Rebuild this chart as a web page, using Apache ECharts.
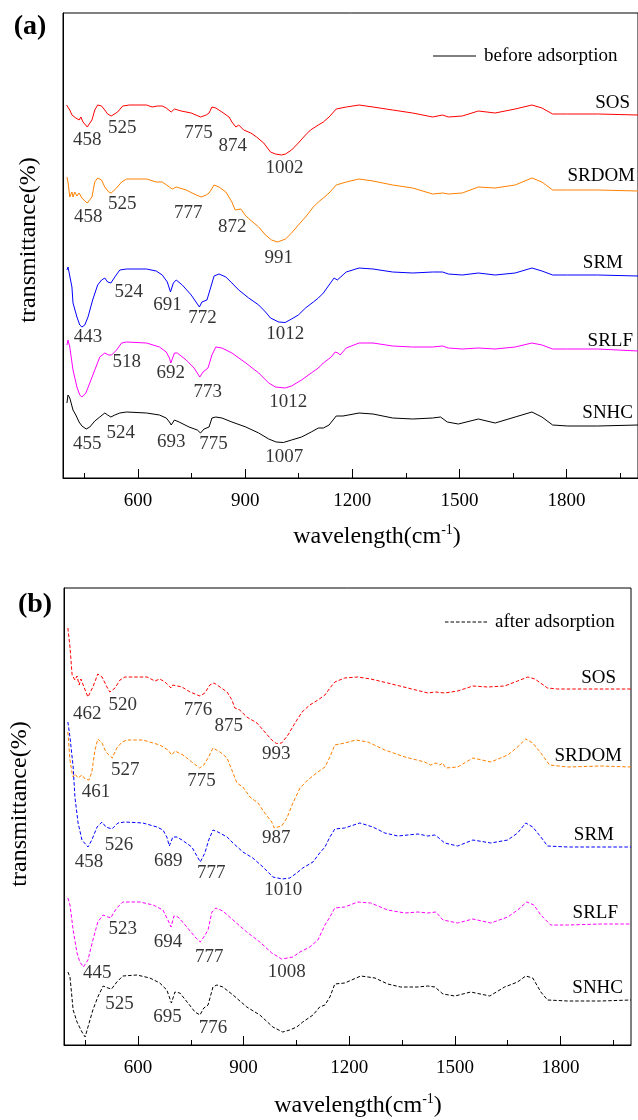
<!DOCTYPE html>
<html>
<head>
<meta charset="utf-8">
<script src="https://cdn.jsdelivr.net/npm/echarts@6/dist/echarts.min.js"></script>
<style>
  html, body { margin: 0; padding: 0; background: #fff; }
  #chart { width: 638px; height: 1120px; }
</style>
</head>
<body>
<div id="chart"></div>
<script>
// ---- axis ticks (wavenumber, cm-1) ----
const wavenumberTicks = [600, 900, 1200, 1500, 1800];
const wavenumberMinorTicks = [450, 750, 1050, 1350, 1650, 1950];

// ---- sample names, top to bottom ----
const samples = ['SOS', 'SRDOM', 'SRM', 'SRLF', 'SNHC'];

// ---- FTIR spectra before adsorption: [wavenumber, offset transmittance] ----
const sosBefore = [[400,74.6],[404,75.0],[409,73.6],[415,72.6],[418,72.2],[426,72.0],[429,72.2],[435,71.6],[440,72.2],[446,71.2],[451,70.8],[458,70.2],[471,71.6],[479,73.6],[487,74.6],[498,74.4],[507,73.6],[515,72.8],[525,72.4],[543,73.2],[557,74.4],[576,74.6],[624,74.6],[640,74.2],[654,74.4],[668,74.4],[679,74.0],[693,73.2],[702,73.8],[721,73.4],[749,73.0],[775,72.2],[791,72.6],[799,73.0],[807,74.2],[818,74.0],[835,73.2],[855,72.2],[863,71.2],[874,70.2],[882,70.6],[896,69.6],[916,69.0],[932,68.2],[952,67.0],[971,65.2],[985,64.8],[1002,64.6],[1013,64.8],[1030,65.6],[1049,67.0],[1069,68.6],[1083,69.6],[1105,70.6],[1119,71.2],[1135,72.2],[1155,73.8],[1183,74.2],[1219,74.6],[1258,74.2],[1313,73.6],[1369,73.0],[1425,72.2],[1453,72.6],[1469,72.2],[1508,72.4],[1553,73.4],[1600,73.0],[1656,73.8],[1703,74.6],[1731,74.0],[1761,72.8],[1803,72.8],[1887,72.8],[2000,72.6]];
const srdomBefore = [[401,60.2],[404,59.2],[409,56.2],[415,57.2],[418,56.2],[423,57.2],[429,56.4],[435,57.0],[443,56.0],[451,55.4],[458,55.0],[471,56.2],[479,59.2],[487,60.0],[498,59.6],[507,58.2],[518,57.2],[525,57.0],[540,58.0],[554,59.2],[568,59.8],[624,59.8],[651,59.2],[668,59.2],[688,58.2],[696,57.8],[707,58.2],[735,57.6],[763,56.6],[777,56.2],[791,56.6],[799,57.0],[813,58.6],[827,58.2],[846,57.2],[863,55.2],[872,53.6],[888,53.8],[902,52.4],[918,51.4],[938,50.2],[957,48.6],[974,47.6],[991,47.2],[1013,47.8],[1030,49.0],[1049,50.6],[1069,52.2],[1091,54.2],[1105,55.2],[1119,56.0],[1135,57.0],[1155,58.6],[1183,59.2],[1219,59.8],[1258,59.4],[1313,58.6],[1369,58.0],[1425,56.8],[1453,57.0],[1469,56.8],[1508,57.0],[1553,58.2],[1600,58.0],[1656,58.6],[1703,60.0],[1731,59.2],[1761,57.6],[1803,57.6],[1887,57.6],[2000,57.4]];
const srmBefore = [[401,41.6],[404,42.2],[409,42.0],[415,38.2],[418,35.0],[429,32.2],[437,30.6],[443,30.2],[451,30.6],[460,32.2],[473,35.6],[487,38.6],[498,39.6],[507,40.0],[515,39.2],[524,39.0],[535,40.2],[549,41.6],[568,41.8],[624,41.8],[651,41.4],[668,40.6],[682,39.2],[691,37.2],[699,39.0],[707,39.6],[724,38.6],[749,36.6],[772,34.2],[779,35.2],[793,35.6],[804,38.2],[813,40.4],[827,40.8],[846,40.2],[863,39.0],[882,37.6],[910,36.0],[938,34.6],[957,33.2],[971,32.0],[994,31.2],[1012,31.1],[1030,31.8],[1049,32.6],[1069,34.0],[1091,35.2],[1105,36.0],[1119,37.0],[1141,39.2],[1149,40.0],[1158,39.6],[1163,39.4],[1183,41.2],[1219,42.0],[1258,41.8],[1313,41.2],[1369,41.0],[1425,41.2],[1453,41.2],[1469,40.8],[1508,40.6],[1553,41.0],[1600,40.6],[1656,41.0],[1703,42.0],[1731,41.4],[1761,40.6],[1803,40.6],[1887,40.6],[2000,40.4]];
const srlfBefore = [[401,26.6],[404,27.6],[409,26.2],[418,21.6],[429,18.2],[437,16.6],[443,16.2],[454,17.0],[465,19.0],[479,21.6],[493,24.2],[507,25.0],[518,24.6],[526,24.6],[540,25.6],[554,27.0],[568,27.2],[624,27.0],[660,26.2],[679,25.2],[688,24.0],[692,23.0],[702,25.0],[710,25.0],[735,23.6],[757,22.0],[773,20.2],[782,21.2],[796,22.0],[807,24.6],[818,26.2],[835,26.0],[863,25.0],[902,23.0],[938,21.0],[966,19.0],[985,18.2],[1012,18.0],[1030,18.4],[1058,19.6],[1085,21.0],[1105,22.0],[1119,23.0],[1141,24.2],[1152,25.2],[1160,25.0],[1166,24.6],[1183,26.0],[1219,27.0],[1258,27.0],[1313,26.4],[1369,26.2],[1425,26.2],[1453,26.4],[1469,26.0],[1508,25.8],[1553,26.0],[1600,25.8],[1656,26.2],[1703,27.0],[1731,26.6],[1761,25.8],[1803,25.8],[1887,25.8],[2000,25.4]];
const snhcBefore = [[401,15.0],[404,16.6],[409,16.0],[418,13.6],[426,12.6],[435,11.2],[443,10.4],[455,9.8],[465,10.2],[479,11.4],[493,12.2],[507,13.0],[515,12.6],[524,12.2],[535,12.6],[549,13.0],[568,13.2],[624,13.0],[660,12.6],[679,12.0],[688,11.2],[693,10.6],[702,11.6],[715,11.2],[743,10.2],[766,9.6],[775,9.0],[785,9.8],[799,10.2],[807,12.0],[818,12.2],[835,12.0],[863,11.2],[902,10.2],[938,9.0],[966,7.8],[987,7.2],[1007,7.1],[1030,7.6],[1058,8.2],[1085,9.2],[1105,10.0],[1119,10.0],[1135,10.6],[1155,12.4],[1174,12.4],[1219,13.0],[1258,12.8],[1313,12.0],[1369,11.8],[1425,12.0],[1447,12.2],[1466,11.2],[1497,10.8],[1553,11.8],[1600,11.0],[1656,12.2],[1703,13.2],[1731,12.2],[1761,10.6],[1803,10.4],[1887,10.4],[2000,10.6]];

// ---- FTIR spectra after adsorption ----
const sosAfter = [[401,83.4],[407,79.6],[413,74.0],[416,73.6],[421,73.0],[427,73.8],[433,72.0],[438,73.2],[450,71.0],[458,69.6],[462,69.4],[472,71.6],[486,74.2],[498,73.6],[512,71.6],[520,70.6],[535,71.4],[549,73.0],[563,73.6],[626,73.6],[648,72.8],[662,73.2],[677,72.6],[694,71.4],[699,72.0],[725,71.6],[748,70.6],[776,69.8],[790,70.4],[804,72.0],[816,72.4],[833,71.6],[853,70.6],[867,69.0],[875,67.4],[889,67.0],[909,65.6],[938,64.4],[960,62.6],[980,61.0],[993,60.3],[1008,60.4],[1026,62.0],[1046,64.4],[1066,66.6],[1088,68.0],[1111,69.0],[1131,70.0],[1145,71.4],[1159,72.6],[1187,73.4],[1224,73.6],[1261,73.2],[1309,72.4],[1366,71.4],[1423,70.4],[1446,70.6],[1471,70.4],[1508,70.8],[1551,71.8],[1593,71.6],[1641,71.8],[1678,72.8],[1707,73.6],[1727,73.2],[1763,71.4],[1792,71.2],[1868,71.2],[1942,71.2],[2000,71.2]];
const srdomAfter = [[401,62.6],[407,57.0],[413,54.4],[416,53.6],[421,54.2],[430,53.4],[441,54.0],[450,53.2],[461,53.0],[469,54.6],[478,59.0],[486,61.2],[498,60.4],[509,58.6],[527,57.4],[540,59.4],[555,60.6],[569,61.0],[614,61.0],[643,60.4],[662,60.0],[685,59.0],[696,58.0],[705,58.8],[728,58.0],[753,56.6],[775,55.4],[787,56.0],[799,57.4],[813,59.4],[833,58.6],[853,57.4],[870,54.4],[881,52.4],[898,51.6],[918,49.6],[941,48.4],[960,46.4],[980,44.6],[987,43.4],[1008,43.8],[1023,45.4],[1040,48.4],[1060,51.4],[1082,53.0],[1111,54.6],[1131,55.6],[1145,57.6],[1159,60.0],[1187,60.4],[1219,61.0],[1253,60.6],[1301,59.0],[1358,57.6],[1414,56.6],[1431,56.0],[1446,56.4],[1457,56.0],[1465,56.4],[1474,55.4],[1508,55.6],[1551,57.4],[1602,56.6],[1650,58.0],[1678,59.6],[1701,61.2],[1721,60.4],[1744,58.4],[1769,56.0],[1820,55.6],[1914,55.8],[2000,55.6]];
const srmAfter = [[401,64.6],[407,61.6],[416,55.6],[421,49.6],[430,44.4],[441,41.0],[458,39.6],[469,41.0],[484,43.6],[498,44.6],[509,43.6],[526,43.2],[529,43.4],[543,44.4],[563,44.6],[614,44.4],[654,43.6],[671,43.0],[682,41.6],[689,39.8],[699,41.6],[711,41.6],[725,41.0],[753,39.6],[777,36.6],[790,38.4],[801,41.0],[813,43.0],[827,42.6],[853,41.6],[870,40.4],[898,38.6],[926,37.4],[955,35.6],[983,33.6],[1010,33.2],[1031,33.4],[1051,34.4],[1068,35.4],[1097,36.6],[1116,38.4],[1131,39.6],[1145,41.6],[1159,43.2],[1187,43.4],[1230,44.4],[1267,43.6],[1301,42.4],[1338,41.8],[1395,42.2],[1423,41.8],[1443,42.0],[1451,41.6],[1471,40.4],[1508,39.8],[1551,41.0],[1602,40.4],[1650,41.0],[1678,42.4],[1701,44.4],[1721,43.6],[1744,41.6],[1763,39.8],[1820,39.6],[1914,39.6],[2000,39.6]];
const srlfAfter = [[401,29.4],[407,28.0],[416,23.0],[427,18.4],[435,16.6],[445,15.6],[458,17.0],[472,21.0],[486,24.6],[501,26.0],[515,25.6],[523,25.4],[529,26.2],[540,27.4],[557,28.6],[606,28.6],[643,28.0],[671,27.0],[685,25.0],[694,23.6],[702,25.8],[714,25.6],[739,23.6],[762,21.6],[777,20.6],[787,21.6],[799,23.0],[810,26.6],[821,27.4],[841,26.8],[870,25.0],[909,22.6],[946,20.6],[980,18.4],[1008,17.2],[1040,17.6],[1060,18.6],[1088,19.6],[1111,21.0],[1131,24.0],[1145,25.6],[1159,27.4],[1187,27.6],[1224,28.6],[1261,28.4],[1309,27.0],[1358,26.4],[1395,26.6],[1423,26.4],[1446,26.6],[1466,25.0],[1508,24.4],[1551,25.2],[1602,24.4],[1650,25.6],[1678,27.0],[1704,28.6],[1724,28.0],[1744,26.0],[1772,24.0],[1820,24.0],[1914,24.2],[2000,24.2]];
const snhcAfter = [[401,14.6],[407,13.6],[416,7.0],[427,4.6],[441,2.6],[450,1.6],[458,3.6],[472,7.0],[486,9.6],[501,11.8],[515,11.4],[525,11.2],[540,12.6],[557,13.8],[597,14.0],[634,13.4],[662,12.4],[682,11.0],[695,8.4],[705,10.6],[719,10.4],[742,8.4],[762,6.6],[776,6.0],[787,7.4],[799,8.0],[813,11.6],[824,12.0],[841,11.6],[870,10.0],[909,7.6],[946,6.0],[983,3.6],[1011,2.6],[1031,3.0],[1051,3.6],[1068,4.6],[1097,6.0],[1116,7.6],[1131,8.0],[1145,9.6],[1159,12.2],[1187,12.4],[1233,13.8],[1273,13.4],[1309,12.2],[1346,11.6],[1395,11.6],[1423,11.8],[1443,11.6],[1448,11.8],[1466,10.2],[1500,9.8],[1545,10.6],[1599,9.8],[1641,11.6],[1678,12.6],[1701,13.8],[1721,13.4],[1744,10.6],[1763,9.0],[1820,8.8],[1914,8.8],[2000,9.0]];

// ---- labelled band positions (cm-1) ----
const peaksBefore = {
  SOS:   [458, 525, 775, 874, 1002],
  SRDOM: [458, 525, 777, 872, 991],
  SRM:   [443, 524, 691, 772, 1012],
  SRLF:  [518, 692, 773, 1012],
  SNHC:  [455, 524, 693, 775, 1007]
};
const peaksAfter = {
  SOS:   [462, 520, 776, 875, 993],
  SRDOM: [461, 527, 775, 987],
  SRM:   [458, 526, 689, 777, 1010],
  SRLF:  [445, 523, 694, 777, 1008],
  SNHC:  [525, 695, 776]
};

// ---- styling / layout ----
const sampleColors = { SOS: '#ff0000', SRDOM: '#ff8000', SRM: '#0000ff', SRLF: '#ff00ff', SNHC: '#000000' };
const FONT = '"Liberation Serif", "Times New Roman", serif';
// pixel nudges of each band label from its band minimum
const labelShiftBefore = {
  SOS:   [[0,13],[11,12],[-2,16],[-3,19],[3,13]],
  SRDOM: [[1,14],[11,11],[-13,16],[-3,17],[1,16]],
  SRM:   [[6,10],[18,9],[-3,13],[3,11],[0,12]],
  SRLF:  [[18,7],[0,10],[8,15],[3,14]],
  SNHC:  [[1,15],[10,16],[0,17],[13,11],[1,15]]
};
const labelShiftAfter = {
  SOS:   [[-2,16],[13,13],[-2,14],[-6,18],[0,11]],
  SRDOM: [[7,12],[13,12],[2,13],[2,10]],
  SRM:   [[1,15],[7,16],[-1,15],[11,11],[1,11]],
  SRLF:  [[14,6],[12,11],[-3,15],[9,15],[5,13]],
  SNHC:  [[8,15],[-4,14],[13,13]]
};

const spectraBefore = { SOS: sosBefore, SRDOM: srdomBefore, SRM: srmBefore, SRLF: srlfBefore, SNHC: snhcBefore };
const spectraAfter  = { SOS: sosAfter,  SRDOM: srdomAfter,  SRM: srmAfter,  SRLF: srlfAfter,  SNHC: snhcAfter };

// value of a spectrum at a given wavenumber (linear between recorded points)
function valueAt(spec, w) {
  for (let i = 1; i < spec.length; i++) {
    const [x0, y0] = spec[i - 1], [x1, y1] = spec[i];
    if (w >= x0 && w <= x1) return x1 === x0 ? y0 : y0 + (y1 - y0) * (w - x0) / (x1 - x0);
  }
  return spec[spec.length - 1][1];
}

function majorAxis(gridIndex) {
  return {
    type: 'value', gridIndex, min: 390, max: 2000,
    axisLine: { show: true, lineStyle: { color: '#000', width: 1 } },
    axisTick: { show: true, inside: true, length: 9, customValues: wavenumberTicks, lineStyle: { color: '#000', width: 1 } },
    axisLabel: {
      show: true, customValues: wavenumberTicks, margin: 14, color: '#000', fontFamily: FONT, fontSize: 19,
      formatter: v => String(v)
    },
    splitLine: { show: false }
  };
}
function minorAxis(gridIndex) {
  return {
    type: 'value', gridIndex, min: 390, max: 2000, position: 'bottom',
    axisLine: { show: false },
    axisTick: { show: true, inside: true, length: 5, customValues: wavenumberMinorTicks, lineStyle: { color: '#000', width: 1 } },
    axisLabel: { show: false },
    splitLine: { show: false }
  };
}
function yAxis(gridIndex, max) {
  return {
    type: 'value', gridIndex, min: 0, max,
    axisLine: { show: true, lineStyle: { color: '#000', width: 1 } },
    axisTick: { show: false }, axisLabel: { show: false }, splitLine: { show: false }
  };
}

const series = [];
function addPanel(spectra, peaks, shifts, xIdx, yIdx, dashed) {
  samples.forEach(name => {
    series.push({
      type: 'line', name, xAxisIndex: xIdx, yAxisIndex: yIdx,
      data: spectra[name], showSymbol: false, symbol: 'none', smooth: false,
      lineStyle: { color: sampleColors[name], width: 1, type: dashed ? [3.5, 2] : 'solid' },
      silent: true, animation: false, z: 3
    });
    const pts = peaks[name].map((w, i) => ({
      value: [w, valueAt(spectra[name], w)],
      label: { offset: shifts[name][i] }
    }));
    series.push({
      type: 'scatter', xAxisIndex: xIdx, yAxisIndex: yIdx, data: pts,
      symbolSize: 1, itemStyle: { color: 'rgba(0,0,0,0)' }, silent: true, animation: false, z: 4,
      label: {
        show: true, position: 'inside', color: '#000', textBorderWidth: 0, fontFamily: FONT, fontSize: 19,
        formatter: p => String(p.value[0])
      }
    });
  });
}
addPanel(spectraBefore, peaksBefore, labelShiftBefore, 0, 0, false);
addPanel(spectraAfter, peaksAfter, labelShiftAfter, 2, 1, true);

// sample names at the right end of each trace
const nameSpotsA = { SOS: [630, 103], SRDOM: [635, 176], SRM: [623, 263], SRLF: [633, 341], SNHC: [633, 413] };
const nameSpotsB = { SOS: [616, 678], SRDOM: [622, 756], SRM: [614, 835], SRLF: [618, 913], SNHC: [623, 988] };
function text(str, x, y, opts) {
  return Object.assign({
    type: 'text', x, y, silent: true, z: 10,
    style: Object.assign({ text: str, fill: '#000', font: '19px ' + FONT, align: 'center', verticalAlign: 'middle' }, (opts && opts.style) || {})
  }, opts && opts.rotation !== undefined ? { rotation: opts.rotation } : {});
}
const graphics = [];
samples.forEach(n => {
  graphics.push(text(n, nameSpotsA[n][0], nameSpotsA[n][1], { style: { align: 'right' } }));
  graphics.push(text(n, nameSpotsB[n][0], nameSpotsB[n][1], { style: { align: 'right' } }));
});
graphics.push(text('(a)', 30, 27, { style: { font: 'bold 28px ' + FONT } }));
graphics.push(text('(b)', 35, 605, { style: { font: 'bold 28px ' + FONT } }));
graphics.push(text('transmittance(%)', 29, 240, { rotation: Math.PI / 2, style: { font: '24px ' + FONT } }));
graphics.push(text('transmittance(%)', 20, 804, { rotation: Math.PI / 2, style: { font: '24px ' + FONT } }));
function axisTitle(x, y) {
  return {
    type: 'text', x, y, silent: true, z: 10,
    style: {
      text: '{m|wavelength(cm}{s|-1}{m|)}', align: 'center', verticalAlign: 'middle',
      rich: {
        m: { fontFamily: FONT, fontSize: 24, fill: '#000', lineHeight: 28 },
        s: { fontFamily: FONT, fontSize: 14, fill: '#000', verticalAlign: 'top', lineHeight: 28, padding: [0, 0, 8, 0] }
      }
    }
  };
}
graphics.push(axisTitle(377, 537));
graphics.push(axisTitle(358, 1106));
// legends
graphics.push({ type: 'line', silent: true, z: 10, shape: { x1: 433, y1: 56, x2: 476, y2: 56 }, style: { stroke: '#000', lineWidth: 1 } });
graphics.push(text('before adsorption', 484, 56, { style: { align: 'left' } }));
graphics.push({ type: 'line', silent: true, z: 10, shape: { x1: 445, y1: 622, x2: 489, y2: 622 }, style: { stroke: '#000', lineWidth: 1, lineDash: [3.5, 2] } });
graphics.push(text('after adsorption', 495, 622, { style: { align: 'left' } }));

const chart = echarts.init(document.getElementById('chart'), null, { renderer: 'canvas' });
chart.setOption({
  animation: false,
  backgroundColor: '#fff',
  grid: [
    { left: 63, top: 13, width: 579, height: 465, show: true, borderColor: '#000', borderWidth: 1, backgroundColor: 'transparent' },
    { left: 64, top: 588, width: 567, height: 457, show: true, borderColor: '#000', borderWidth: 1, backgroundColor: 'transparent' }
  ],
  xAxis: [majorAxis(0), minorAxis(0), majorAxis(1), minorAxis(1)],
  yAxis: [yAxis(0, 93), yAxis(1, 91.4)],
  series,
  graphic: graphics
});
</script>
</body>
</html>
